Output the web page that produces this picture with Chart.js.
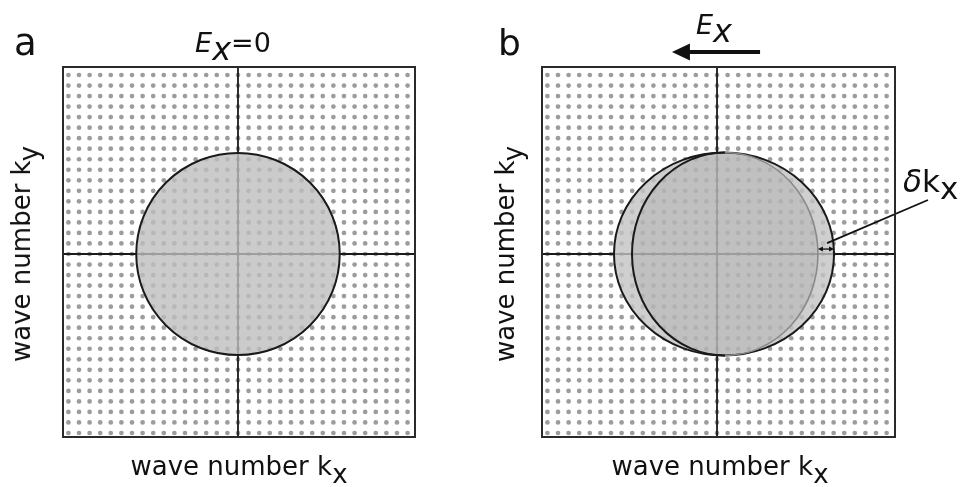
<!DOCTYPE html>
<html><head><meta charset="utf-8">
<script src="https://cdn.jsdelivr.net/npm/chart.js@4"></script>
<style>
html,body{margin:0;padding:0;background:#fff;}
#wrap{position:relative;width:968px;height:487px;overflow:hidden;font-family:'DejaVu Sans',Verdana,sans-serif;color:#111;}
canvas{position:absolute;top:0;}
.t{position:absolute;white-space:nowrap;line-height:1;}
.sub{position:relative;line-height:0;}
</style></head><body>
<div id="wrap">
<canvas id="ca" width="484" height="487" style="left:0"></canvas>
<canvas id="cb" width="484" height="487" style="left:484px"></canvas>
<div class="t" style="left:14px;top:24px;font-size:37px">a</div>
<div class="t" style="left:498px;top:25px;font-size:36px">b</div>
<div class="t" style="left:233px;top:29px;font-size:27px;transform:translateX(-50%)"><i>E</i><i class="sub" style="top:8px;font-size:32px">x</i>=0</div>
<div class="t" style="left:696px;top:11px;font-size:27px"><i>E</i><i class="sub" style="top:8px;font-size:32px">x</i></div>
<div class="t" style="left:903px;top:166px;font-size:31px"><i>δ</i>k<span class="sub" style="top:7px">x</span></div>
<div class="t" style="left:239px;top:453px;font-size:26px;transform:translateX(-50%)">wave number k<span class="sub" style="top:8px">x</span></div>
<div class="t" style="left:720px;top:453px;font-size:26px;transform:translateX(-50%)">wave number k<span class="sub" style="top:8px">x</span></div>
<div class="t" style="left:21px;top:254px;font-size:26px;transform:translate(-50%,-50%) rotate(-90deg)">wave number k<span class="sub" style="top:8px">y</span></div>
<div class="t" style="left:505px;top:254px;font-size:26px;transform:translate(-50%,-50%) rotate(-90deg)">wave number k<span class="sub" style="top:8px">y</span></div>
</div>
<script>
// lattice of allowed k-states (grid indices)
const kxLattice = [-16,-15,-14,-13,-12,-11,-10,-9,-8,-7,-6,-5,-4,-3,-2,-1,0,1,2,3,4,5,6,7,8,9,10,11,12,13,14,15,16];
const kyLattice = [-17,-16,-15,-14,-13,-12,-11,-10,-9,-8,-7,-6,-5,-4,-3,-2,-1,0,1,2,3,4,5,6,7,8,9,10,11,12,13,14,15,16,17];
// axis ranges (grid units)
const xRangeA = [-16.51, 16.70];
const xRangeB = [-16.51, 16.79];
const yRange  = [-17.38, 17.76];
// Fermi surfaces: centre and semi-axes (grid units)
const fermiA      = {cx: 0.00, cy: 0, rx: 9.60,  ry: 9.60};
const fermiBOuter = {cx: 0.66, cy: 0, rx: 10.38, ry: 9.64};
const fermiBInner = {cx: 0.75, cy: 0, rx: 8.77,  ry: 9.64};
// annotations (grid units)
const fieldArrow   = {x0: 4.06, x1: -4.25, y: 19.18};
const deltaPointer = {x0: 19.9, y0: 5.13, x1: 10.38, y1: 1.04};
const deltaArrowY  = 0.47;

const dots = [];
kxLattice.forEach(x => kyLattice.forEach(y => dots.push({x, y})));

function toPx(chart, x, y) {
  return [chart.scales.x.getPixelForValue(x), chart.scales.y.getPixelForValue(y)];
}
function ell(chart, e) {
  const [cx, cy] = toPx(chart, e.cx, e.cy);
  const rx = Math.abs(chart.scales.x.getPixelForValue(e.cx + e.rx) - cx);
  const ry = Math.abs(chart.scales.y.getPixelForValue(e.cy + e.ry) - cy);
  return {cx, cy, rx, ry};
}
function fillEll(ctx, e, color) {
  ctx.beginPath(); ctx.ellipse(e.cx, e.cy, e.rx, e.ry, 0, 0, Math.PI * 2);
  ctx.fillStyle = color; ctx.fill();
}
function strokeEll(ctx, e, color, w, a0 = 0, a1 = Math.PI * 2) {
  ctx.beginPath(); ctx.ellipse(e.cx, e.cy, e.rx, e.ry, 0, a0, a1);
  ctx.strokeStyle = color; ctx.lineWidth = w; ctx.stroke();
}
function arrowHead(ctx, x, y, dir, len, half) {
  ctx.beginPath();
  ctx.moveTo(x, y);
  ctx.lineTo(x - dir * len, y - half);
  ctx.lineTo(x - dir * len, y + half);
  ctx.closePath(); ctx.fill();
}
const borderPlugin = {
  id: 'box',
  afterDraw(chart) {
    const {ctx, chartArea: a} = chart;
    ctx.save();
    ctx.strokeStyle = '#2a2a2a'; ctx.lineWidth = 2;
    ctx.strokeRect(a.left, a.top, a.right - a.left, a.bottom - a.top);
    ctx.restore();
  }
};
const panelA = {
  id: 'fermiA',
  afterDatasetsDraw(chart) {
    const ctx = chart.ctx; ctx.save();
    const e = ell(chart, fermiA);
    fillEll(ctx, e, 'rgba(190,190,190,0.8)');
    strokeEll(ctx, e, '#1a1a1a', 2);
    ctx.restore();
  }
};
const panelB = {
  id: 'fermiB',
  afterDatasetsDraw(chart) {
    const ctx = chart.ctx; ctx.save();
    const o = ell(chart, fermiBOuter), i = ell(chart, fermiBInner);
    fillEll(ctx, o, 'rgba(195,195,195,0.8)');
    fillEll(ctx, i, 'rgba(140,140,140,0.22)');
    strokeEll(ctx, o, '#1a1a1a', 2);
    strokeEll(ctx, i, '#8a8a8a', 1.6, -Math.PI / 2, Math.PI / 2);
    strokeEll(ctx, i, '#1a1a1a', 2, Math.PI / 2, Math.PI * 1.5);
    // delta k double arrow
    const [ax0, ay] = toPx(chart, fermiBInner.cx + fermiBInner.rx, deltaArrowY);
    const [ax1] = toPx(chart, fermiBOuter.cx + fermiBOuter.rx, deltaArrowY);
    ctx.strokeStyle = '#111'; ctx.fillStyle = '#111'; ctx.lineWidth = 1.3;
    ctx.beginPath(); ctx.moveTo(ax0 + 3, ay); ctx.lineTo(ax1 - 3, ay); ctx.stroke();
    arrowHead(ctx, ax0, ay, -1, 5, 2.5);
    arrowHead(ctx, ax1, ay, 1, 5, 2.5);
    // pointer line
    const [p0x, p0y] = toPx(chart, deltaPointer.x0, deltaPointer.y0);
    const [p1x, p1y] = toPx(chart, deltaPointer.x1, deltaPointer.y1);
    ctx.lineWidth = 1.8;
    ctx.beginPath(); ctx.moveTo(p0x, p0y); ctx.lineTo(p1x, p1y); ctx.stroke();
    // field arrow
    const [f0x, fy] = toPx(chart, fieldArrow.x0, fieldArrow.y);
    const [f1x] = toPx(chart, fieldArrow.x1, fieldArrow.y);
    ctx.lineWidth = 4;
    ctx.beginPath(); ctx.moveTo(f0x, fy); ctx.lineTo(f1x + 14, fy); ctx.stroke();
    arrowHead(ctx, f1x, fy, -1, 18, 8.5);
    ctx.restore();
  }
};
function makeChart(id, xr, pad, plugin) {
  return new Chart(document.getElementById(id), {
    type: 'scatter',
    data: {datasets: [
      {data: dots, pointRadius: 2.35, pointBackgroundColor: '#9c9c9c', pointBorderWidth: 0, order: 3},
      {data: [{x: xr[0], y: 0}, {x: xr[1], y: 0}], showLine: true, borderColor: '#1a1a1a', borderWidth: 1.8, pointRadius: 0, order: 1},
      {data: [{x: 0, y: yRange[0]}, {x: 0, y: yRange[1]}], showLine: true, borderColor: '#1a1a1a', borderWidth: 1.8, pointRadius: 0, order: 1}
    ]},
    options: {
      responsive: false, animation: false, events: [],
      layout: {padding: pad},
      scales: {
        x: {type: 'linear', min: xr[0], max: xr[1], display: false},
        y: {type: 'linear', min: yRange[0], max: yRange[1], display: false}
      },
      plugins: {legend: {display: false}, tooltip: {enabled: false}, title: {display: false}}
    },
    plugins: [plugin, borderPlugin]
  });
}
makeChart('ca', xRangeA, {left: 63, right: 69, top: 67, bottom: 50}, panelA);
makeChart('cb', xRangeB, {left: 58, right: 73, top: 67, bottom: 50}, panelB);
</script>
</body></html>
